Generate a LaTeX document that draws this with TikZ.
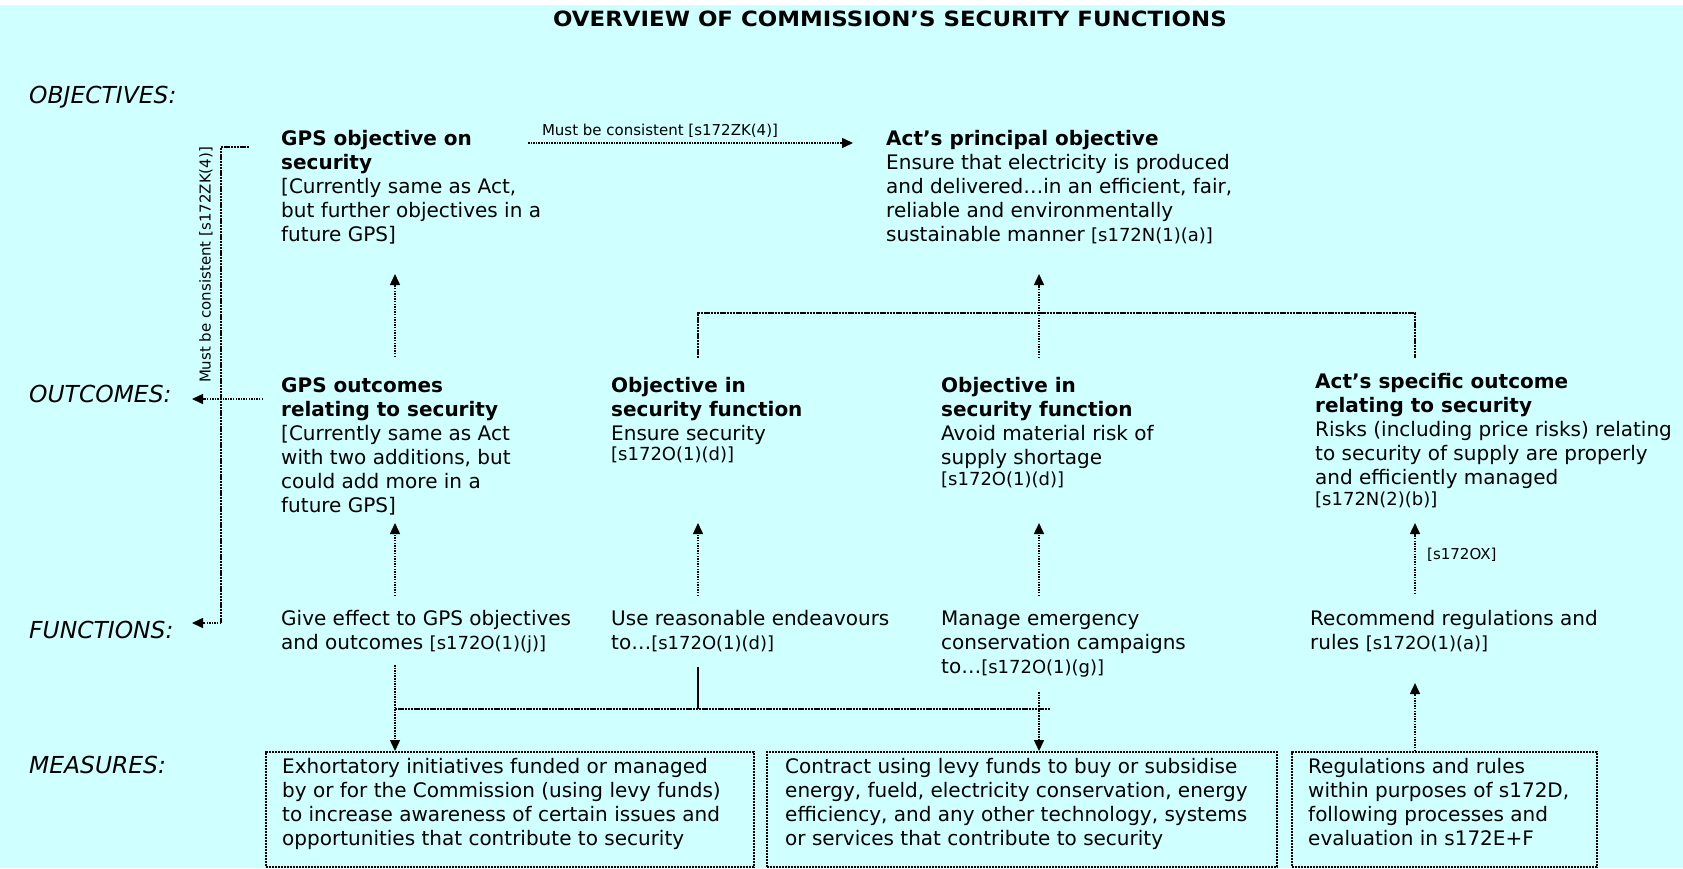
\documentclass[tikz,border=0pt]{standalone}
\usepackage{fontspec}
\setmainfont{DejaVu Sans}
\usetikzlibrary{arrows.meta}
\definecolor{bgc}{RGB}{208,255,255}
\newcommand{\refsz}[1]{{\fontsize{18}{20}\selectfont #1}}
\begin{document}
\begin{tikzpicture}[x=1pt,y=-1pt,
  body/.style={font=\fontsize{20}{24}\selectfont, align=left, inner sep=0pt, anchor=north west},
  lab/.style={font=\fontsize{23.4}{26}\selectfont\itshape, inner sep=0pt, anchor=west},
  smalltxt/.style={font=\fontsize{15}{18}\selectfont, inner sep=0pt},
  conn/.style={line width=1.5pt, dash pattern=on 1.5pt off 1.1pt},
  arr/.style={conn, -{Triangle[length=11pt,width=10pt]}},
  bus/.style={line width=2.4pt, dash pattern=on 2.4pt off 0.8pt},
  mbox/.style={draw, line width=2.2pt, dash pattern=on 2.2pt off 0.8pt, inner sep=0pt, anchor=north west, minimum height=115pt},
]
\useasboundingbox (0,0) rectangle (1683,868);
\fill[white] (0,0) rectangle (1683,868);
\fill[bgc] (0,5) rectangle (1683,868);

% title
\node[font=\fontsize{21}{24}\selectfont\bfseries, inner sep=0pt] (title) at (890,19) {\scalebox{1.09}[1]{OVERVIEW OF COMMISSION’S SECURITY FUNCTIONS}};

% row labels
\node[lab] (lobj) at (29,97) {OBJECTIVES:};
\node[lab] (lout) at (29,394) {OUTCOMES:};
\node[lab] (lfun) at (29,630) {FUNCTIONS:};
\node[lab] (lmea) at (29,765) {MEASURES:};

% objectives
\node[body] (gpsobj) at (281,128.2) {\strut\textbf{GPS objective on}\\\textbf{security}\\{}[Currently same as Act,\\but further objectives in a\\future GPS]};
\node[body] (actobj) at (886,128.2) {\strut\textbf{Act’s principal objective}\\Ensure that electricity is produced\\and delivered…in an efficient, fair,\\reliable and environmentally\\sustainable manner \refsz{[s172N(1)(a)]}};

% outcomes
\node[body] (gpsout) at (281,375.2) {\strut\textbf{GPS outcomes}\\\textbf{relating to security}\\{}[Currently same as Act\\with two additions, but\\could add more in a\\future GPS]};
\node[body] (objsec1) at (611,375.2) {\strut\textbf{Objective in}\\\textbf{security function}\\Ensure security\\[-4pt]\refsz{[s172O(1)(d)]}};
\node[body] (objsec2) at (941,375.2) {\strut\textbf{Objective in}\\\textbf{security function}\\Avoid material risk of\\supply shortage\\[-3pt]\refsz{[s172O(1)(d)]}};
\node[body] (actout) at (1315,371.2) {\strut\textbf{Act’s specific outcome}\\\textbf{relating to security}\\Risks (including price risks) relating\\to security of supply are properly\\and efficiently managed\\[-3pt]\refsz{[s172N(2)(b)]}};

% functions
\node[body] (fun1) at (281,608.2) {\strut Give effect to GPS objectives\\and outcomes \refsz{[s172O(1)(j)]}};
\node[body] (fun2) at (611,608.2) {\strut Use reasonable endeavours\\to…\refsz{[s172O(1)(d)]}};
\node[body] (fun3) at (941,608.2) {\strut Manage emergency\\conservation campaigns\\to…\refsz{[s172O(1)(g)]}};
\node[body] (fun4) at (1310,608.2) {\strut Recommend regulations and\\rules \refsz{[s172O(1)(a)]}};

% measures
\node[mbox, minimum width=488pt] (m1) at (265,751) {};
\node[mbox, minimum width=510pt] (m2) at (766,751) {};
\node[mbox, minimum width=305pt] (m3) at (1291,751) {};
\node[body] (m1t) at (282,756.2) {\strut Exhortatory initiatives funded or managed\\by or for the Commission (using levy funds)\\to increase awareness of certain issues and\\opportunities that contribute to security};
\node[body] (m2t) at (785,756.2) {\strut Contract using levy funds to buy or subsidise\\energy, fueld, electricity conservation, energy\\efficiency, and any other technology, systems\\or services that contribute to security};
\node[body] (m3t) at (1308,756.2) {\strut Regulations and rules\\within purposes of s172D,\\following processes and\\evaluation in s172E+F};

% connector points
\coordinate (ca1) at (528,143); \coordinate (ca2) at (853,143);
\node[smalltxt] (calab) at (660,131) {Must be consistent [s172ZK(4)]};
\draw[arr] (ca1) -- (ca2);

\coordinate (br1) at (249,147); \coordinate (br2) at (221,147); \coordinate (br3) at (221,623); \coordinate (br4) at (192,623);
\draw[bus] (br1) -- (br2) -- (br3);
\draw[arr] (br3) -- (br4);
\node[smalltxt, rotate=90] (vlab) at (206,265) {Must be consistent [s172ZK(4)]};
\coordinate (oa1) at (263,399); \coordinate (oa2) at (192,399);
\draw[arr] (oa1) -- (oa2);

% outcomes -> objectives
\coordinate (u1a) at (395,357); \coordinate (u1b) at (395,274);
\draw[arr] (u1a) -- (u1b);
\coordinate (t1) at (698,358); \coordinate (t2) at (698,313); \coordinate (t3) at (1415,313); \coordinate (t4) at (1415,358);
\draw[bus] (t1) -- (t2) -- (t3) -- (t4);
\coordinate (u2a) at (1039,358); \coordinate (u2b) at (1039,274);
\draw[arr] (u2a) -- (u2b);

% functions -> outcomes
\foreach \xx/\nm in {395/fa, 698/fb, 1039/fc} {
  \coordinate (\nm1) at (\xx,596); \coordinate (\nm2) at (\xx,523);
  \draw[arr] (\nm1) -- (\nm2);
}
\coordinate (fd1) at (1415,594); \coordinate (fd2) at (1415,523);
\draw[arr] (fd1) -- (fd2);
\node[smalltxt, anchor=west] (oxlab) at (1427,555) {[s172OX]};

% functions -> measures
\coordinate (g1) at (395,665);
\draw[arr] (g1) -- (g1 |- m1.north);
\coordinate (h1) at (395,709); \coordinate (h2) at (1050,709);
\draw[bus] (h1) -- (h2);
\coordinate (h3) at (698,667); \coordinate (h4) at (698,709);
\draw[line width=2.2pt] (h3) -- (h4);
\coordinate (g2) at (1039,692);
\draw[arr] (g2) -- (g2 |- m2.north);
\coordinate (g3) at (1415,683);
\draw[arr] (g3 |- m3.north) -- (g3);
\end{tikzpicture}
\end{document}
